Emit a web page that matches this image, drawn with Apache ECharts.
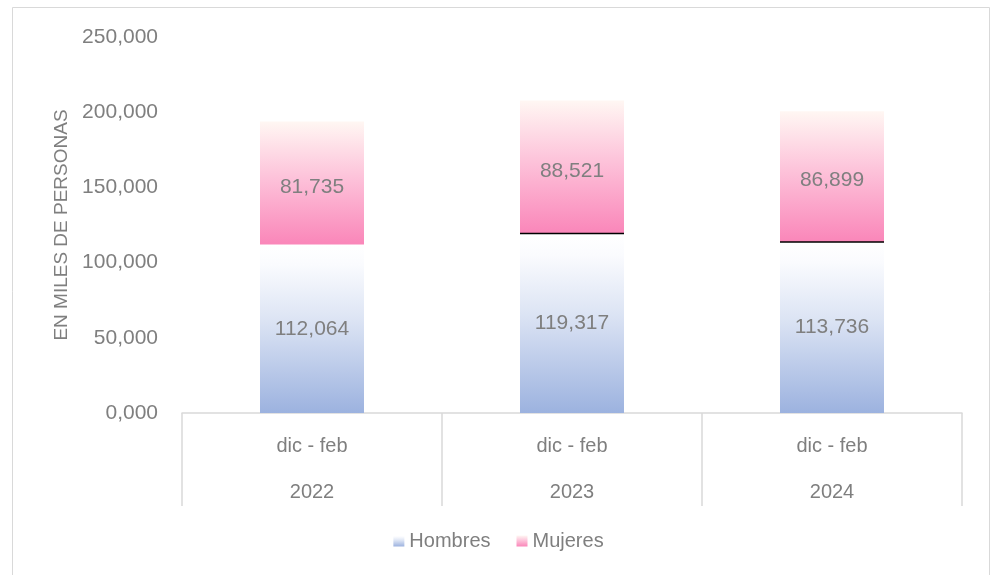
<!DOCTYPE html>
<html>
<head>
<meta charset="utf-8">
<script src="https://cdn.jsdelivr.net/npm/echarts@6/dist/echarts.min.js"></script>
<style>
html,body{margin:0;padding:0;background:#fff;}
#chart{width:997px;height:575px;}
</style>
</head>
<body>
<div id="chart"></div>
<script>
const periods = ['dic - feb', 'dic - feb', 'dic - feb'];
const years = ['2022', '2023', '2024'];
const hombres = [112.064, 119.317, 113.736];
const mujeres = [81.735, 88.521, 86.899];
const yTicks = { min: 0, max: 250, interval: 50 };
const lineTopIdx = [1, 2];

const categories = periods.map((p, i) => p + '\n' + years[i]);
const fmt = v => Number(v).toFixed(3).replace('.', ',');
const FONT = '"Liberation Sans", "DejaVu Sans", sans-serif';
const GRAY = '#7F7F7F';

const hGrad = new echarts.graphic.LinearGradient(0, 0, 0, 1, [
  { offset: 0, color: '#FFFFFF' },
  { offset: 0.12, color: '#FAFBFE' },
  { offset: 0.45, color: '#DCE4F4' },
  { offset: 1, color: '#9CB2DF' }
]);
const mGrad = new echarts.graphic.LinearGradient(0, 0, 0, 1, [
  { offset: 0, color: '#FFF7F3' },
  { offset: 0.45, color: '#FDC3DA' },
  { offset: 1, color: '#FA86B9' }
]);

const chart = echarts.init(document.getElementById('chart'), null, { renderer: 'canvas' });
chart.setOption({
  animation: false,
  backgroundColor: '#fff',
  textStyle: { fontFamily: FONT },
  graphic: [{
    type: 'rect', silent: true, z: -1,
    shape: { x: 12.5, y: 7.5, width: 977, height: 600 },
    style: { fill: 'none', stroke: '#D9D9D9', lineWidth: 1 }
  }],
  grid: { left: 182, right: 35, top: 37, bottom: 162 },
  legend: {
    bottom: 19, left: 'center',
    itemWidth: 11, itemHeight: 11, itemGap: 26,
    textStyle: { color: GRAY, fontSize: 20, fontFamily: FONT },
    data: [
      { name: 'Hombres', icon: 'rect' },
      { name: 'Mujeres', icon: 'rect' }
    ]
  },
  xAxis: {
    type: 'category',
    data: categories,
    axisLine: { lineStyle: { color: '#D9D9D9', width: 1.5 } },
    axisTick: { show: true, length: 93, interval: 0, lineStyle: { color: '#D9D9D9', width: 1.5 } },
    axisLabel: {
      interval: 0, margin: 10, color: GRAY, fontSize: 20, lineHeight: 46,
      fontFamily: FONT
    }
  },
  yAxis: {
    type: 'value',
    min: yTicks.min, max: yTicks.max, interval: yTicks.interval,
    name: 'EN MILES DE PERSONAS',
    nameLocation: 'middle', nameGap: 110, nameRotate: 90,
    nameTextStyle: { color: GRAY, fontSize: 19, fontFamily: FONT },
    axisLine: { show: false }, axisTick: { show: false },
    splitLine: { show: false },
    axisLabel: { color: GRAY, fontSize: 21, margin: 24, formatter: fmt, fontFamily: FONT }
  },
  series: [
    {
      name: 'Hombres', type: 'bar', stack: 'total', barWidth: '40%',
      data: hombres,
      itemStyle: { color: hGrad },
      label: { show: true, position: 'inside', color: GRAY, fontSize: 21, formatter: p => fmt(p.value), fontFamily: FONT }
    },
    {
      name: 'Mujeres', type: 'bar', stack: 'total', barWidth: '40%',
      data: mujeres,
      itemStyle: { color: mGrad },
      label: { show: true, position: 'inside', offset: [0, 4], color: GRAY, fontSize: 21, formatter: p => fmt(p.value), fontFamily: FONT }
    },
    {
      name: 'sep', type: 'custom', silent: true, z: 10,
      data: lineTopIdx.map(i => [i, hombres[i]]),
      renderItem: function (params, api) {
        const pt = api.coord([api.value(0), api.value(1)]);
        const w = api.size([1, 0])[0] * 0.4;
        return {
          type: 'line',
          shape: { x1: pt[0] - w / 2, y1: pt[1], x2: pt[0] + w / 2, y2: pt[1] },
          style: { stroke: '#000', lineWidth: 1.5 }
        };
      }
    }
  ]
});
</script>
</body>
</html>
